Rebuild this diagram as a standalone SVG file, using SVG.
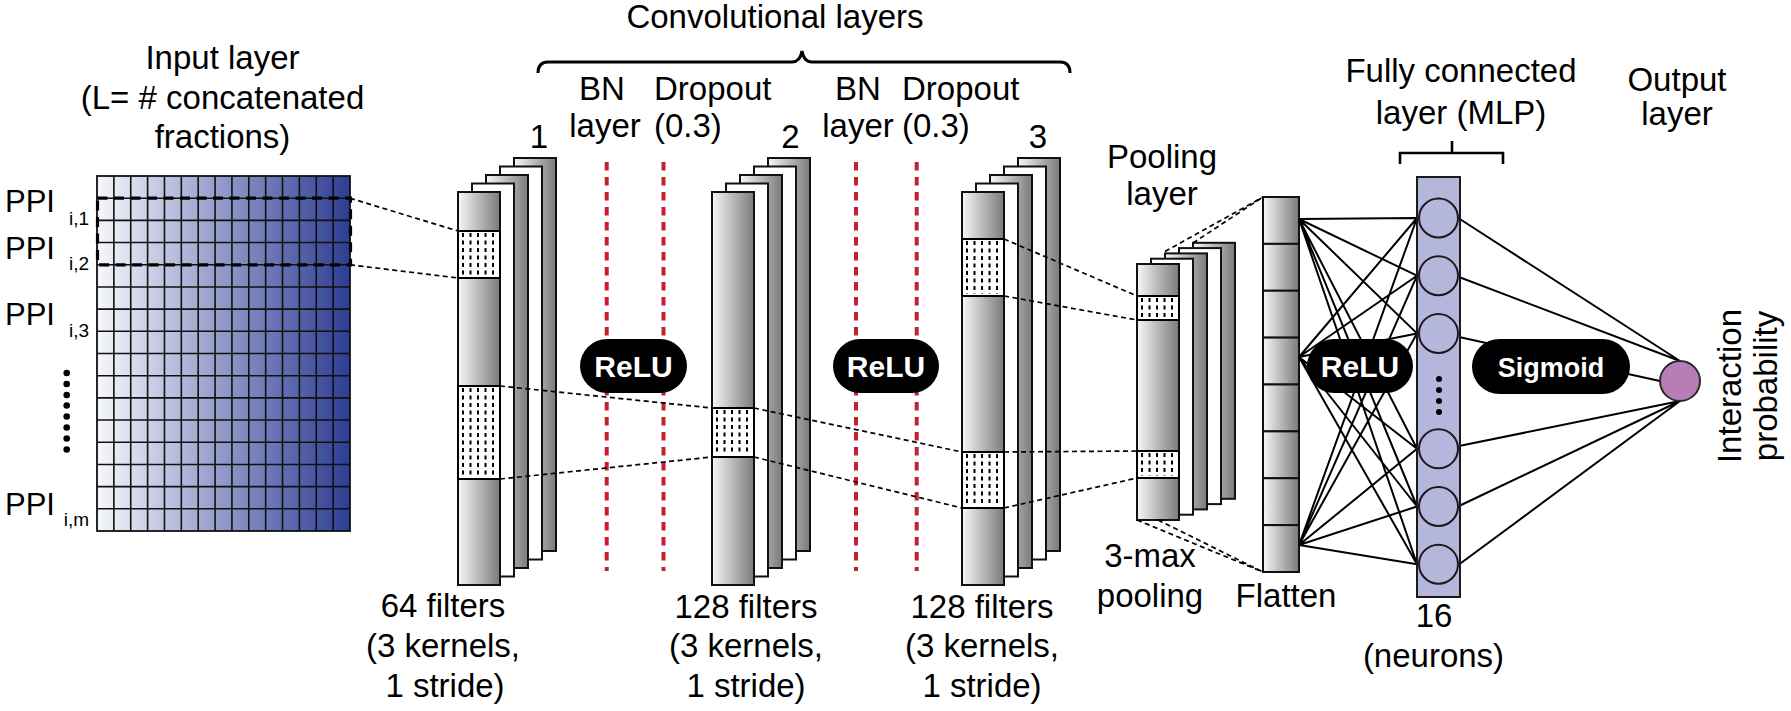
<svg xmlns="http://www.w3.org/2000/svg" xmlns:xlink="http://www.w3.org/1999/xlink" width="1791" height="711" viewBox="0 0 1791 711">
<style>
.t{font-family:"Liberation Sans",Arial,Helvetica,sans-serif;font-size:33px;fill:#000}
.c{text-anchor:middle}
.ppi{font-size:31px}
.sub{font-family:"Liberation Sans",Arial,Helvetica,sans-serif;font-size:19px;fill:#000;text-anchor:end}
.pill{fill:#000}
.pt{font-family:"Liberation Sans",Arial,Helvetica,sans-serif;font-weight:bold;font-size:30px;fill:#fff;text-anchor:middle}
.red{stroke:#c4202e;stroke-width:4;stroke-dasharray:8.5 6.5;fill:none}
.dl{stroke:#000;stroke-width:1.7;stroke-dasharray:5 3.5;fill:none}
.plate{stroke:#111;stroke-width:2}
.g{fill:url(#gray)}
.w{fill:#fff}
.dot{fill:#fff;stroke:#000;stroke-width:2}
.vd{stroke:#000;stroke-width:2;stroke-dasharray:4 3.5;fill:none}
.fc{stroke:#000;stroke-width:2;fill:none}
.br{stroke:#000;stroke-width:3;fill:none}
.lav{fill:#b4b6dc;stroke:#1a1a1a;stroke-width:2}
</style>
<defs>
<linearGradient id="gray" x1="0" y1="0" x2="1" y2="0">
<stop offset="0" stop-color="#f7f7f7"/>
<stop offset="1" stop-color="#7a7a7a"/>
</linearGradient>
<linearGradient id="blue" x1="0" y1="0" x2="1" y2="0">
<stop offset="0" stop-color="#f6f7fb"/>
<stop offset="0.5" stop-color="#9099c8"/>
<stop offset="1" stop-color="#2d3d93"/>
</linearGradient>
<g id="convStack">
<rect class="plate g" x="56" y="-34" width="42" height="393"/>
<rect class="plate w" x="42" y="-25.5" width="42" height="393"/>
<rect class="plate g" x="28" y="-17" width="42" height="393"/>
<rect class="plate w" x="14" y="-8.5" width="42" height="393"/>
<rect class="plate g" x="0" y="0" width="42" height="393"/>
</g>
<g id="poolStack">
<rect class="plate g" x="56" y="-21.2" width="42" height="256"/>
<rect class="plate w" x="42" y="-15.9" width="42" height="256"/>
<rect class="plate g" x="28" y="-10.6" width="42" height="256"/>
<rect class="plate w" x="14" y="-5.3" width="42" height="256"/>
<rect class="plate g" x="0" y="0" width="42" height="256"/>
</g>
</defs>

<g id="input-layer">
<text class="t c" x="222.5" y="69">Input layer</text>
<text class="t c" x="222.5" y="108.5">(L= # concatenated</text>
<text class="t c" x="222.5" y="148">fractions)</text>
<rect x="97" y="176" width="253" height="355" fill="url(#blue)" stroke="#111" stroke-width="1.8"/>
<path stroke="#111" stroke-width="1.6" fill="none" d="M113.87,176V531 M130.73,176V531 M147.6,176V531 M164.47,176V531 M181.33,176V531 M198.2,176V531 M215.07,176V531 M231.93,176V531 M248.8,176V531 M265.67,176V531 M282.53,176V531 M299.4,176V531 M316.27,176V531 M333.13,176V531 M97,198.19H350 M97,220.38H350 M97,242.56H350 M97,264.75H350 M97,286.94H350 M97,309.13H350 M97,331.31H350 M97,353.5H350 M97,375.69H350 M97,397.88H350 M97,420.06H350 M97,442.25H350 M97,464.44H350 M97,486.63H350 M97,508.81H350"/>
<rect x="97.5" y="198.2" width="253" height="66.6" fill="none" stroke="#000" stroke-width="3.2" stroke-dasharray="10 6.5"/>
<text class="t ppi" x="5" y="212">PPI</text>
<text class="sub" x="89" y="225">i,1</text>
<text class="t ppi" x="5" y="258.5">PPI</text>
<text class="sub" x="89" y="270">i,2</text>
<text class="t ppi" x="5" y="325">PPI</text>
<text class="sub" x="89" y="337">i,3</text>
<g fill="#000">
<circle cx="66.7" cy="373" r="3.3"/><circle cx="66.7" cy="384" r="3.3"/><circle cx="66.7" cy="395" r="3.3"/><circle cx="66.7" cy="405.5" r="3.3"/><circle cx="66.7" cy="416.5" r="3.3"/><circle cx="66.7" cy="427.5" r="3.3"/><circle cx="66.7" cy="438.5" r="3.3"/><circle cx="66.7" cy="449.5" r="3.3"/>
</g>
<text class="t ppi" x="5" y="515">PPI</text>
<text class="sub" x="89" y="526">i,m</text>
</g>

<g id="conv-title">
<text class="t c" x="775" y="27.5">Convolutional layers</text>
<path class="br" d="M538,73 Q538,62 548,62 L792,62 Q800,62 802,51 Q804,62 812,62 L1060,62 Q1070,62 1070,73"/>
</g>

<g id="conv1">
<text class="t c" x="539" y="148">1</text>
<use xlink:href="#convStack" href="#convStack" x="458" y="192"/>
<rect class="dot" x="458" y="231" width="42" height="47"/>
<rect class="dot" x="458" y="386" width="42" height="93"/>
<text class="t c" x="443" y="617">64 filters</text>
<text class="t c" x="443" y="657">(3 kernels,</text>
<text class="t c" x="445" y="697">1 stride)</text>
</g>

<g id="bn-dropout-1">
<text class="t c" x="602" y="100">BN</text>
<text class="t c" x="605" y="137">layer</text>
<text class="t" x="654" y="100">Dropout</text>
<text class="t" x="654" y="137">(0.3)</text>
<line class="red" x1="606.7" y1="162" x2="606.7" y2="571"/>
<line class="red" x1="663.5" y1="162" x2="663.5" y2="571"/>
</g>

<g id="conv2">
<text class="t c" x="790.5" y="148">2</text>
<use xlink:href="#convStack" href="#convStack" x="712" y="192"/>
<rect class="dot" x="712" y="408" width="42" height="49"/>
<text class="t c" x="746" y="618">128 filters</text>
<text class="t c" x="746" y="657">(3 kernels,</text>
<text class="t c" x="746" y="697">1 stride)</text>
</g>

<g id="bn-dropout-2">
<text class="t c" x="858" y="100">BN</text>
<text class="t c" x="858" y="137">layer</text>
<text class="t" x="902" y="100">Dropout</text>
<text class="t" x="902" y="137">(0.3)</text>
<line class="red" x1="856" y1="162" x2="856" y2="571"/>
<line class="red" x1="916.7" y1="162" x2="916.7" y2="571"/>
</g>

<g id="conv3">
<text class="t c" x="1038" y="148">3</text>
<use xlink:href="#convStack" href="#convStack" x="962" y="192"/>
<rect class="dot" x="962" y="239" width="42" height="57"/>
<rect class="dot" x="962" y="452" width="42" height="56"/>
<text class="t c" x="982" y="618">128 filters</text>
<text class="t c" x="982" y="657">(3 kernels,</text>
<text class="t c" x="982" y="697">1 stride)</text>
</g>

<g id="pooling">
<text class="t c" x="1162" y="168">Pooling</text>
<text class="t c" x="1162" y="204.5">layer</text>
<use xlink:href="#poolStack" href="#poolStack" x="1137" y="264"/>
<rect class="dot" x="1137" y="296" width="42" height="24"/>
<rect class="dot" x="1137" y="451" width="42" height="27"/>
<text class="t c" x="1150" y="567">3-max</text>
<text class="t c" x="1150" y="607">pooling</text>
</g>

<g id="dotted-fill">
<path class="vd" d="M463,233V276 M470.5,233V276 M478,233V276 M485.5,233V276 M493,233V276
M463,388V477 M470.5,388V477 M478,388V477 M485.5,388V477 M493,388V477
M717,410V455 M724.5,410V455 M732,410V455 M739.5,410V455 M747,410V455
M967,241V294 M974.5,241V294 M982,241V294 M989.5,241V294 M997,241V294
M967,454V506 M974.5,454V506 M982,454V506 M989.5,454V506 M997,454V506
M1142,298V318 M1149.5,298V318 M1157,298V318 M1164.5,298V318 M1172,298V318
M1142,453V476 M1149.5,453V476 M1157,453V476 M1164.5,453V476 M1172,453V476"/>
</g>

<g id="flatten">
<rect class="plate g" x="1263" y="197" width="36" height="46.875"/>
<rect class="plate g" x="1263" y="243.875" width="36" height="46.875"/>
<rect class="plate g" x="1263" y="290.75" width="36" height="46.875"/>
<rect class="plate g" x="1263" y="337.625" width="36" height="46.875"/>
<rect class="plate g" x="1263" y="384.5" width="36" height="46.875"/>
<rect class="plate g" x="1263" y="431.375" width="36" height="46.875"/>
<rect class="plate g" x="1263" y="478.25" width="36" height="46.875"/>
<rect class="plate g" x="1263" y="525.125" width="36" height="46.875"/>
<text class="t c" x="1286" y="607">Flatten</text>
</g>

<g id="connectors">
<path class="dl" d="M350,198.2L458,231 M350,264.8L458,278 M500,386L712,408 M500,479L712,457 M754,408L962,452 M754,457L962,508 M1004,239L1137,296 M1004,296L1137,320 M1004,452L1137,451 M1004,508L1137,478 M1165,251.5L1263,197 M1193,243L1263,197 M1137,520L1263,572 M1158,520L1263,572"/>
<path class="fc" d="M1299,219L1417,218 M1299,219L1417,275.7 M1299,219L1417,333.4 M1299,219L1417,448.8 M1299,219L1417,506.5 M1299,219L1417,564.2
M1299,357L1417,218 M1299,357L1417,275.7 M1299,357L1417,333.4 M1299,357L1417,448.8 M1299,357L1417,506.5 M1299,357L1417,564.2
M1299,545L1417,218 M1299,545L1417,275.7 M1299,545L1417,333.4 M1299,545L1417,448.8 M1299,545L1417,506.5 M1299,545L1417,564.2"/>
<path class="fc" d="M1459,218.5L1680,361 M1459,277L1680,361 M1459,337L1660,381 M1459,446L1680,401 M1459,506L1680,401 M1459,564.5L1680,401"/>
</g>

<g id="mlp">
<text class="t c" x="1461" y="82">Fully connected</text>
<text class="t c" x="1461" y="123.5">layer (MLP)</text>
<path class="br" style="stroke-width:2.6" d="M1400,164V153H1503V164 M1452,153V141"/>
<rect class="lav" x="1417" y="177" width="43" height="420"/>
<circle class="lav" cx="1438.5" cy="218" r="19.5"/>
<circle class="lav" cx="1438.5" cy="275.7" r="19.5"/>
<circle class="lav" cx="1438.5" cy="333.4" r="19.5"/>
<circle class="lav" cx="1438.5" cy="448.8" r="19.5"/>
<circle class="lav" cx="1438.5" cy="506.5" r="19.5"/>
<circle class="lav" cx="1438.5" cy="564.2" r="19.5"/>
<g fill="#000"><circle cx="1439" cy="379" r="3"/><circle cx="1439" cy="390" r="3"/><circle cx="1439" cy="401" r="3"/><circle cx="1439" cy="412" r="3"/></g>
<text class="t c" x="1434" y="627">16</text>
<text class="t c" x="1433.5" y="667">(neurons)</text>
</g>

<g id="relu-1">
<rect class="pill" x="580" y="339" width="107" height="54" rx="27"/>
<text class="pt" x="633.5" y="377">ReLU</text>
</g>
<g id="relu-2">
<rect class="pill" x="833" y="339" width="106" height="54" rx="27"/>
<text class="pt" x="886" y="377">ReLU</text>
</g>
<g id="relu-3">
<rect class="pill" x="1307" y="339" width="106" height="54" rx="27"/>
<text class="pt" x="1360" y="377">ReLU</text>
</g>
<g id="sigmoid">
<rect class="pill" x="1472" y="339" width="158" height="55" rx="27.5"/>
<text class="pt" x="1551" y="376.5" style="font-size:27px">Sigmoid</text>
</g>

<g id="output">
<text class="t c" x="1677" y="91">Output</text>
<text class="t c" x="1677" y="125">layer</text>
<circle cx="1680" cy="381" r="20" fill="#b77db7" stroke="#2a2a2a" stroke-width="2"/>
<text class="t c" transform="translate(1741,386) rotate(-90)">Interaction</text>
<text class="t c" transform="translate(1777,386) rotate(-90)">probability</text>
</g>
</svg>
